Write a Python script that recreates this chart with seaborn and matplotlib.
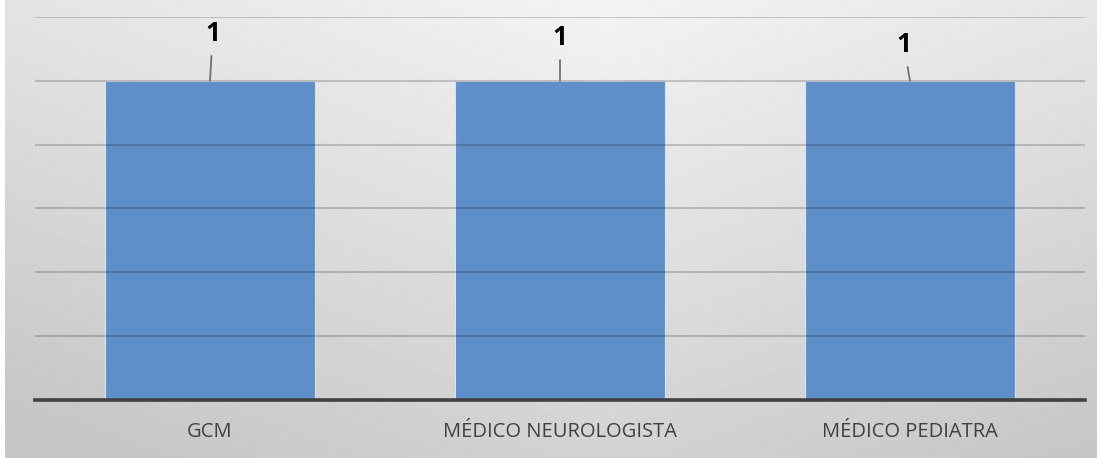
import numpy as np
import matplotlib
matplotlib.use("Agg")
import matplotlib.pyplot as plt
import seaborn as sns
import pandas as pd

categories = ["GCM", "MÉDICO NEUROLOGISTA", "MÉDICO PEDIATRA"]
values = [1, 1, 1]
value_labels = ["1", "1", "1"]

sns.set_theme(style="white")
plt.rcParams['font.family'] = ['Open Sans', 'DejaVu Sans']

W, H = 1103, 458
fig = plt.figure(figsize=(W / 100, H / 100), dpi=100)

# background gradient
bg = fig.add_axes([5 / W, 0, 1092 / W, 1])
yy, xx = np.mgrid[0:1:200j, 0:1:400j]
light = 0.955 - 0.13 * (1 - yy) - 0.07 * np.abs(xx - 0.55) * 1.6
light = np.clip(light, 0.78, 0.96)
bg.imshow(light, cmap="gray", vmin=0, vmax=1, aspect="auto", origin="lower",
          extent=[0, 1, 0, 1])
bg.set_axis_off()

ax = fig.add_axes([35 / W, 1 - 400 / H, 1050 / W, 383 / H])
ax.patch.set_alpha(0)
df = pd.DataFrame({"cat": categories, "val": values})
sns.barplot(data=df, x="cat", y="val", ax=ax, color="#5F8FC8", width=0.6,
            saturation=1, edgecolor="#dbe4ef", linewidth=0.8, zorder=2)
ax.set_ylim(0, 1.2)
ax.set_xlim(-0.5, len(categories) - 0.5)
ax.set_yticks(np.arange(0.2, 1.21, 0.2))
ax.set_yticklabels([])
ax.tick_params(axis="y", length=0)
ax.tick_params(axis="x", length=0, pad=16, labelsize=14.5, labelcolor="#404040")
for y in np.arange(0.2, 1.21, 0.2):
    ax.axhline(y, color="black", alpha=0.18, lw=1.5, zorder=3)
for s in ["top", "right", "left"]:
    ax.spines[s].set_visible(False)
ax.spines["bottom"].set_color("#404040")
ax.spines["bottom"].set_linewidth(2.6)
ax.spines["bottom"].set_zorder(4)
ax.set_xlabel("")
ax.set_ylabel("")

offsets = [(2, 34), (0, 31), (-4.5, 26)]
for i, (v, lab) in enumerate(zip(values, value_labels)):
    dx, dy = offsets[i]
    ax.annotate(lab, xy=(i, v),
                xytext=(dx, dy), textcoords="offset points",
                ha="center", va="center", fontsize=19, fontweight="bold",
                color="black",
                arrowprops=dict(arrowstyle="-", color="#707070", lw=1.3,
                                shrinkA=4, shrinkB=0))

fig.savefig("out.png", dpi=100)
